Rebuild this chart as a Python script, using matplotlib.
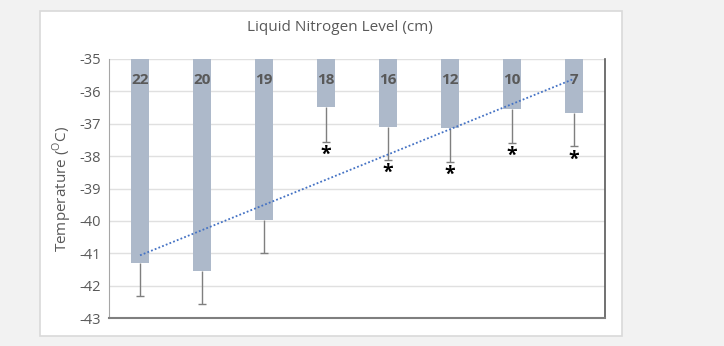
import numpy as np
import matplotlib.pyplot as plt
from matplotlib.patches import Rectangle

plt.rcParams['font.family'] = ['Open Sans', 'DejaVu Sans']
plt.rcParams['axes.unicode_minus'] = False

levels = ['22', '20', '19', '18', '16', '12', '10', '7']
temps = [-41.3, -41.55, -39.97, -36.47, -37.09, -37.12, -36.55, -36.66]
errs = [1.03, 1.02, 1.03, 1.08, 1.03, 1.05, 1.05, 1.04]
signif = [False, False, False, True, True, True, True, True]

base = -35
x = np.arange(len(levels))
t = np.array(temps)
lows = t - np.array(errs)
heights = t - base

fig = plt.figure(figsize=(7.24, 3.46), dpi=100, facecolor='#f2f2f2')
fig.patches.append(Rectangle((0.0552, 0.029), 0.804, 0.939, transform=fig.transFigure,
                             facecolor='white', edgecolor='#d9d9d9', lw=1.2, zorder=-10))
ax = fig.add_axes([0.1506, 0.0809, 0.685, 0.7486])
ax.set_zorder(1)
ax.set_facecolor('white')

ax.bar(x, heights, width=0.3, bottom=base, color='#adb9ca', zorder=2)
# minus-only error bars, cap at the lower end
ax.vlines(x, lows, t, color='#7f7f7f', lw=1, zorder=3)
ax.plot(x, lows, linestyle='none', marker='_', ms=6, mew=1, color='#7f7f7f', zorder=3)

for i, lab in enumerate(levels):
    ax.text(x[i], -35.65, lab, ha='center', va='center', fontsize=11,
            fontweight='bold', color='#595959', zorder=4)
    if signif[i]:
        ax.text(x[i], lows[i] - 0.4, '*', ha='center', va='center',
                fontsize=14, fontweight='bold', color='black', zorder=4)

# linear trendline
k, b = np.polyfit(x, temps, 1)
ax.plot(x, k * x + b, linestyle=(0, (1, 1.2)), color='#4472c4', lw=1.3, zorder=5)

ax.set_xlim(-0.5, 7.5)
ax.set_ylim(-43, -35)
ax.set_yticks(np.arange(-43, -34, 1))
ax.set_xticks([])
ax.grid(axis='y', color='#e0e0e0', lw=1, zorder=0)
ax.set_axisbelow(True)
ax.tick_params(axis='y', length=0, labelsize=10.5, labelcolor='#595959', pad=6)

ax.spines['top'].set_visible(False)
ax.spines['left'].set_color('#a6a6a6')
ax.spines['bottom'].set_color('#7f7f7f')
ax.spines['bottom'].set_linewidth(1.5)
ax.spines['right'].set_color('#595959')
ax.spines['right'].set_linewidth(1.2)

ax.set_ylabel('Temperature ($^{\\mathregular{O}}$C)', fontsize=11, color='#595959', labelpad=4)
fig.text(0.47, 0.92, 'Liquid Nitrogen Level (cm)', ha='center', va='center',
         fontsize=11, color='#595959')

fig.savefig('out.png', dpi=100, facecolor=fig.get_facecolor())
